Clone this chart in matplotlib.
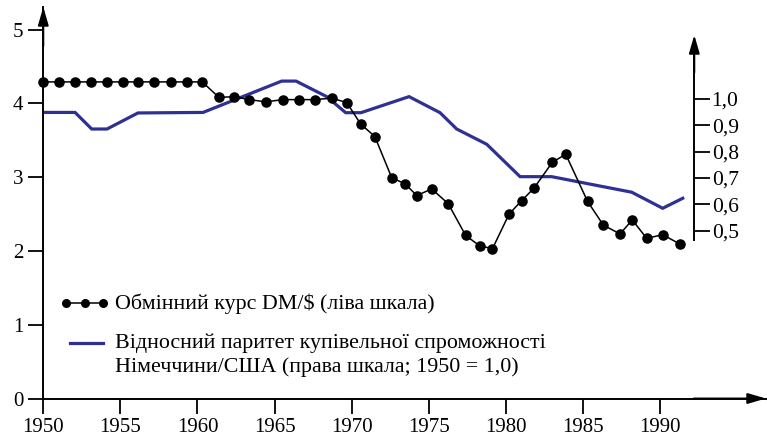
import matplotlib
matplotlib.use('Agg')
import matplotlib.pyplot as plt
from matplotlib.lines import Line2D

SERIF = 'Liberation Serif'

# DM/$ exchange rate, annual points (left scale)
rate_years = [1950.0, 1951.04, 1952.06, 1953.07, 1954.11, 1955.15, 1956.16, 1957.2,
              1958.26, 1959.3, 1960.31, 1961.39, 1962.39, 1963.36, 1964.44, 1965.53,
              1966.6, 1967.62, 1968.7, 1969.68, 1970.58, 1971.5, 1972.6, 1973.46,
              1974.22, 1975.19, 1976.26, 1977.39, 1978.29, 1979.13, 1980.21, 1981.02,
              1981.82, 1983.01, 1983.88, 1985.3, 1986.32, 1987.4, 1988.2, 1989.13,
              1990.17, 1991.31]
rate = [4.29, 4.29, 4.29, 4.29, 4.29, 4.29, 4.29, 4.29, 4.29, 4.29, 4.29,
        4.08, 4.09, 4.05, 4.02, 4.05, 4.05, 4.05, 4.07, 4.01,
        3.72, 3.55, 2.99, 2.91, 2.75, 2.84, 2.64, 2.21, 2.07, 2.03,
        2.50, 2.68, 2.85, 3.20, 3.31, 2.67, 2.35, 2.23, 2.42, 2.17, 2.22, 2.09]

# relative purchasing power parity Germany/USA (right scale)
ppp_years = [1950.0, 1952.06, 1953.14, 1954.13, 1956.14, 1960.36, 1965.46, 1966.39,
             1968.38, 1969.61, 1970.6, 1973.72, 1975.73, 1976.81, 1978.76, 1980.92,
             1982.97, 1988.16, 1990.17, 1991.47]
ppp = [0.949, 0.949, 0.886, 0.886, 0.947, 0.949, 1.068, 1.068, 1.009, 0.948,
       0.948, 1.009, 0.948, 0.886, 0.828, 0.705, 0.705, 0.646, 0.585, 0.623]

year_ticks = [1950, 1955, 1960, 1965, 1970, 1975, 1980, 1985, 1990]
left_ticks = [0, 1, 2, 3, 4, 5]
right_ticks = [0.5, 0.6, 0.7, 0.8, 0.9, 1.0]
right_labels = ['0,5', '0,6', '0,7', '0,8', '0,9', '1,0']

label_rate = 'Обмінний курс DM/$ (ліва шкала)'
label_ppp = ['Відносний паритет купівельної спроможності',
             'Німеччини/США (права шкала; 1950 = 1,0)']

blue = '#2e3192'
W, H = 767, 441
fig = plt.figure(figsize=(W / 100, H / 100), dpi=100)
ax = fig.add_axes([43.3 / W, 1 - 398.5 / H, 722.7 / W, 391.5 / H])
ax.set_xlim(1950, 1996.87)
ax.set_ylim(0, 5.305)
ax2 = ax.twinx()
ax2.set_ylim(-0.1375, 1.3494)

ax2.plot(ppp_years, ppp, color=blue, lw=2.3, solid_joinstyle='miter', zorder=2)
ax.plot(rate_years, rate, color='black', lw=1.1, marker='o', ms=7.6,
        markeredgewidth=0, zorder=3, clip_on=False)
ax.set_zorder(ax2.get_zorder() + 1)
ax.patch.set_visible(False)

for s in ['top', 'right']:
    ax.spines[s].set_visible(False)
for s in ['top', 'left', 'bottom']:
    ax2.spines[s].set_visible(False)
for s in ['left', 'bottom']:
    ax.spines[s].set_linewidth(1.4)

ax.set_xticks(year_ticks)
ax.set_xticklabels([str(y) for y in year_ticks], family=SERIF, fontsize=15)
ax.set_yticks(left_ticks)
ax.set_yticklabels([str(v) for v in left_ticks], family=SERIF, fontsize=15)
ax.tick_params(axis='both', direction='out', length=10.8, width=1.3,
               color='black')
ax.tick_params(axis='x', pad=3.5)
ax.tick_params(axis='y', pad=3.5)

ax2.spines['right'].set_position(('axes', 0.9008))
ax2.spines['right'].set_bounds(0.4645, 1.22)
ax2.spines['right'].set_linewidth(1.4)
ax2.set_yticks(right_ticks)
ax2.set_yticklabels(right_labels, family=SERIF, fontsize=15.5)
ax2.tick_params(axis='y', direction='out', length=11.5, width=1.3, pad=1)

arrow = dict(arrowstyle='-|>,head_length=0.55,head_width=0.16', lw=1.4,
             color='black', shrinkA=0, shrinkB=0, mutation_scale=20)
ax.annotate('', xy=(0, 1), xytext=(0, 0.9), xycoords='axes fraction',
            arrowprops=arrow, annotation_clip=False)
ax.annotate('', xy=(1, 0), xytext=(0.9, 0), xycoords='axes fraction',
            arrowprops=arrow, annotation_clip=False)
ax2.annotate('', xy=(0.9008, 1.243), xytext=(0.9008, 1.1),
             xycoords=('axes fraction', 'data'), arrowprops=arrow,
             annotation_clip=False)


# legend drawn by hand in figure pixels
def fp(x, y):
    return x / W, 1 - y / H


x0, y0 = fp(66, 303)
x1, _ = fp(103, 303)
fig.add_artist(Line2D([x0, (x0 + x1) / 2, x1], [y0, y0, y0], color='black',
                      lw=1.1, marker='o', ms=6.5, markeredgewidth=0,
                      transform=fig.transFigure))
x0, y0 = fp(70, 343)
x1, _ = fp(103.5, 343)
fig.add_artist(Line2D([x0, x1], [y0, y0], color=blue, lw=2.3,
                      transform=fig.transFigure))
txt = dict(fontsize=15.8, va='center', ha='left', family=SERIF)
fig.text(*fp(115, 304), label_rate, **txt)
fig.text(*fp(115, 343), label_ppp[0], **txt)
fig.text(*fp(115, 367), label_ppp[1], **txt)

fig.savefig('out.png', dpi=100)
